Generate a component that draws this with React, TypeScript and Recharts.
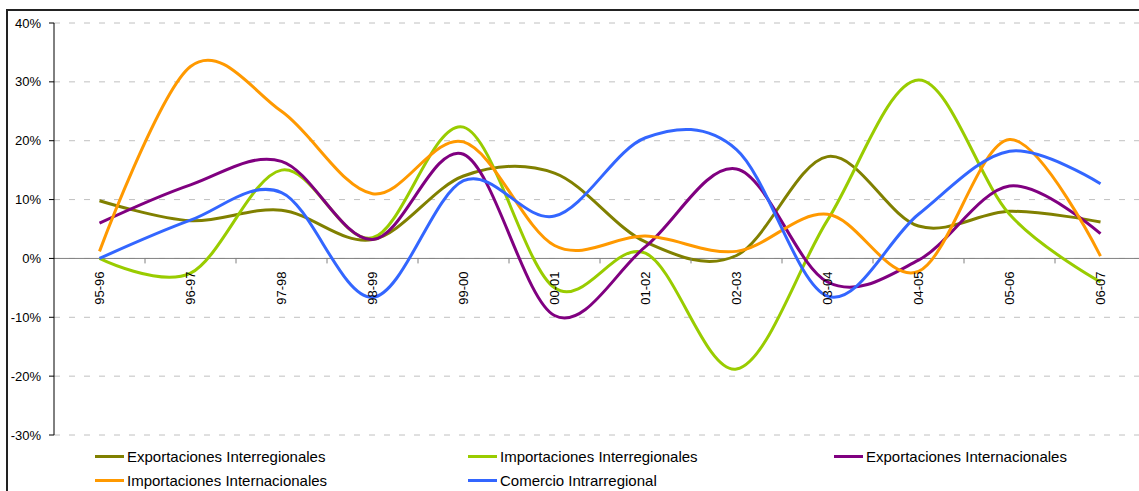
import {
  CartesianGrid,
  Legend,
  Line,
  LineChart,
  ReferenceDot,
  ReferenceLine,
  XAxis,
  YAxis,
} from "recharts";

const periodos = [
  "95-96",
  "96-97",
  "97-98",
  "98-99",
  "99-00",
  "00-01",
  "01-02",
  "02-03",
  "03-04",
  "04-05",
  "05-06",
  "06-07",
];

const exportacionesInterregionales = [9.8, 6.4, 8.2, 3.2, 14, 14.5, 2.8, 0.5, 17.3, 5.5, 8, 6.2];
const importacionesInterregionales = [0, -2.5, 15, 3.5, 22.3, -5, 0.9, -18.8, 6.5, 30.3, 7.5, -4];
const exportacionesInternacionales = [6, 12.5, 16.5, 3.2, 17.7, -9.7, 2, 15.2, -4, -0.3, 12.3, 4.2];
const importacionesInternacionales = [1.2, 32.6, 25, 11, 19.8, 2.2, 3.8, 1.2, 7.5, -2.2, 20.2, 0.4];
const comercioIntrarregional = [0, 6.5, 11.2, -6.6, 13.2, 7.2, 20.5, 18.5, -6.4, 7.5, 18.2, 12.7];

const yTicks = [-30, -20, -10, 0, 10, 20, 30, 40];

const series = [
  { key: "expInterreg", name: "Exportaciones Interregionales", color: "#808000" },
  { key: "impInterreg", name: "Importaciones Interregionales", color: "#99cc00" },
  { key: "expInternac", name: "Exportaciones Internacionales", color: "#800080" },
  { key: "impInternac", name: "Importaciones Internacionales", color: "#ff9900" },
  { key: "comercio", name: "Comercio Intrarregional", color: "#3366ff" },
];

const data = periodos.map((periodo, i) => ({
  periodo,
  expInterreg: exportacionesInterregionales[i],
  impInterreg: importacionesInterregionales[i],
  expInternac: exportacionesInternacionales[i],
  impInternac: importacionesInternacionales[i],
  comercio: comercioIntrarregional[i],
}));

const FONT = "Arial, 'Liberation Sans', sans-serif";
const CHART_W = 1160;
const CHART_H = 491;
const MARGIN = { top: 23, right: 14, left: 0, bottom: 56 };
const Y_AXIS_W = 54;
const HALF_BAND = (CHART_W - MARGIN.left - MARGIN.right - Y_AXIS_W) / periodos.length / 2;

// smooth curve like the spreadsheet one (catmull-rom, tension 0)
function smoothCurve(context: any) {
  const k = 1 / 6;
  let x0 = NaN, x1 = NaN, x2 = NaN, y0 = NaN, y1 = NaN, y2 = NaN;
  let pt = 0;
  let line = NaN;
  const seg = (x: number, y: number) => {
    context.bezierCurveTo(
      x1 + k * (x2 - x0),
      y1 + k * (y2 - y0),
      x2 + k * (x1 - x),
      y2 + k * (y1 - y),
      x2,
      y2
    );
  };
  return {
    areaStart() {
      line = 0;
    },
    areaEnd() {
      line = NaN;
    },
    lineStart() {
      x0 = x1 = x2 = y0 = y1 = y2 = NaN;
      pt = 0;
    },
    lineEnd() {
      if (pt === 2) context.lineTo(x2, y2);
      else if (pt === 3) seg(x1, y1);
      if (line || (line !== 0 && pt === 1)) context.closePath();
      line = 1 - line;
    },
    point(x: number, y: number) {
      x = +x;
      y = +y;
      switch (pt) {
        case 0:
          pt = 1;
          line ? context.lineTo(x, y) : context.moveTo(x, y);
          break;
        case 1:
          pt = 2;
          x1 = x;
          y1 = y;
          break;
        case 2:
          pt = 3;
          seg(x, y);
          break;
        default:
          seg(x, y);
          break;
      }
      x0 = x1;
      x1 = x2;
      x2 = x;
      y0 = y1;
      y1 = y2;
      y2 = y;
    },
  };
}

const CategoryLabel = (props: any) => {
  const { cx, cy, label } = props;
  return (
    <g>
      <line x1={cx + HALF_BAND} y1={cy} x2={cx + HALF_BAND} y2={cy + 5} stroke="#808080" />
      <text
        transform={`translate(${cx},${cy + 13}) rotate(-90)`}
        textAnchor="end"
        dominantBaseline="central"
        fontSize={13}
        fontFamily={FONT}
        fill="#000"
      >
        {label}
      </text>
    </g>
  );
};

const renderLegend = (props: any) => {
  const { payload } = props;
  const ordered = series
    .map((s) => payload.find((p: any) => p.value === s.name))
    .filter(Boolean);
  return (
    <div
      style={{
        display: "grid",
        gridTemplateColumns: "373px 366px 300px",
        paddingLeft: 95,
        fontFamily: FONT,
        fontSize: 15,
        color: "#000",
      }}
    >
      {ordered.map((entry: any) => (
        <div key={entry.value} style={{ display: "flex", alignItems: "center", height: 24 }}>
          <span
            style={{
              display: "inline-block",
              width: 29,
              height: 3,
              background: entry.color,
              marginRight: 3,
            }}
          />
          <span>{entry.value}</span>
        </div>
      ))}
    </div>
  );
};

const App = () => {
  return (
    <div
      style={{
        position: "fixed",
        left: 0,
        top: 0,
        width: 1139,
        height: 491,
        overflow: "hidden",
        background: "#fff",
      }}
    >
      <div
        style={{
          position: "absolute",
          left: 6,
          top: 9,
          width: 1300,
          height: 700,
          borderTop: "2px solid #222",
          borderLeft: "2px solid #222",
        }}
      />
      <div style={{ position: "absolute", left: 0, top: 0 }}>
        <LineChart width={CHART_W} height={CHART_H} data={data} margin={MARGIN}>
          <CartesianGrid vertical={false} stroke="#c0c0c0" strokeDasharray="6 9" />
          <XAxis dataKey="periodo" hide padding={{ left: HALF_BAND, right: HALF_BAND }} />
          <YAxis
            width={Y_AXIS_W}
            domain={[-30, 40]}
            ticks={yTicks}
            interval={0}
            tickFormatter={(v) => `${v}%`}
            tick={{ fontSize: 13, fontFamily: FONT, fill: "#000" }}
            tickSize={5}
            tickMargin={8}
            axisLine={{ stroke: "#000" }}
            tickLine={{ stroke: "#000" }}
          />
          <ReferenceLine y={0} stroke="#808080" strokeWidth={1} />
          {periodos.map((p) => (
            <ReferenceDot
              key={p}
              x={p}
              y={0}
              r={0}
              shape={(props: any) => <CategoryLabel {...props} label={p} />}
            />
          ))}
          <Legend
            content={renderLegend}
            layout="horizontal"
            verticalAlign="middle"
            align="center"
            wrapperStyle={{ top: 444, left: 0, width: CHART_W }}
          />
          {series.map((s) => (
            <Line
              key={s.key}
              dataKey={s.key}
              name={s.name}
              type={smoothCurve as any}
              stroke={s.color}
              strokeWidth={3}
              dot={false}
              activeDot={false}
              isAnimationActive={false}
            />
          ))}
        </LineChart>
      </div>
    </div>
  );
};

export default App;
